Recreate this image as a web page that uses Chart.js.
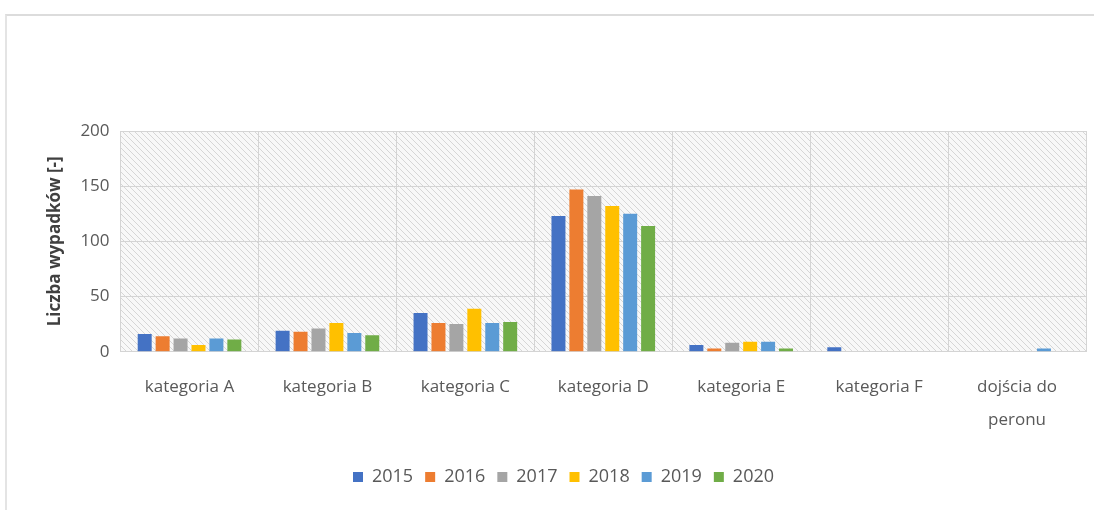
<!DOCTYPE html>
<html>
<head>
<meta charset="utf-8">
<script src="https://cdn.jsdelivr.net/npm/chart.js@4/dist/chart.umd.min.js"></script>
<style>
  body { margin: 0; background: #fff; }
  #frame {
    position: absolute; left: 5px; top: 14px;
    width: 1089px; height: 496px;
    border-top: 2px solid #dcdcdc; border-left: 2px solid #e4e4e4;
    box-sizing: border-box;
  }
</style>
</head>
<body>
<div id="frame"><canvas id="myChart" width="1087" height="494"></canvas></div>
<script>
// dane z wykresu
const categories = ["kategoria A", "kategoria B", "kategoria C", "kategoria D", "kategoria E", "kategoria F", ["dojścia do", "peronu"]];
const years = ["2015", "2016", "2017", "2018", "2019", "2020"];
const values2015 = [16, 19, 35, 123, 6, 4, 0];
const values2016 = [14, 18, 26, 147, 3, 0, 0];
const values2017 = [12, 21, 25, 141, 8, 0, 0];
const values2018 = [6, 26, 39, 132, 9, 0, 0];
const values2019 = [12, 17, 26, 125, 9, 0, 3];
const values2020 = [11, 15, 27, 114, 3, 0, 0];
const yTicks = [0, 50, 100, 150, 200];
const colors = ["#4472C4", "#ED7D31", "#A5A5A5", "#FFC000", "#5B9BD5", "#70AD47"];

const allValues = [values2015, values2016, values2017, values2018, values2019, values2020];

// tło z ukośnym kreskowaniem
function makeHatch() {
  const c = document.createElement("canvas");
  c.width = 6;
  c.height = 6;
  const g = c.getContext("2d");
  g.fillStyle = "#f8f8f8";
  g.fillRect(0, 0, 6, 6);
  g.strokeStyle = "#d6d6d6";
  g.lineWidth = 1;
  g.beginPath();
  g.moveTo(0, 0); g.lineTo(6, 6);
  g.moveTo(-3, 3); g.lineTo(3, 9);
  g.moveTo(3, -3); g.lineTo(9, 3);
  g.stroke();
  return c;
}

const hatchPlugin = {
  id: "hatch",
  beforeDraw(chart) {
    const { ctx, chartArea } = chart;
    ctx.save();
    ctx.fillStyle = ctx.createPattern(makeHatch(), "repeat");
    ctx.fillRect(chartArea.left, chartArea.top, chartArea.right - chartArea.left, chartArea.bottom - chartArea.top);
    ctx.restore();
  },
};

const chartData = {
  labels: categories,
  datasets: years.map((y, i) => ({
    label: y,
    data: allValues[i],
    backgroundColor: colors[i],
    borderWidth: 0,
    barPercentage: 0.78,
    categoryPercentage: 0.78,
  })),
};

const chartOptions = {
  responsive: false,
  animation: false,
  layout: { padding: { top: 115, right: 8, left: 34, bottom: 14 } },
  plugins: {
    legend: {
      position: "bottom",
      labels: {
        boxWidth: 10,
        boxHeight: 10,
        padding: 12,
        color: "#595959",
        font: { family: "Open Sans", size: 18 },
      },
    },
    tooltip: { enabled: false },
  },
  scales: {
    x: {
      grid: { color: "#d4d4d4", offset: true, drawTicks: false },
      border: { color: "#d4d4d4" },
      ticks: {
        color: "#595959",
        padding: 19,
        maxRotation: 0,
        font: { family: "Open Sans", size: 17, lineHeight: 1.95 },
      },
    },
    y: {
      min: 0,
      max: 200,
      afterBuildTicks: (axis) => { axis.ticks = yTicks.map((v) => ({ value: v })); },
      grid: { color: "#d4d4d4", drawTicks: false },
      border: { display: false },
      ticks: {
        color: "#595959",
        padding: 11,
        font: { family: "Open Sans", size: 17 },
      },
      title: {
        display: true,
        text: "Liczba wypadków [-]",
        color: "#404040",
        padding: 4,
        font: { family: "Open Sans", size: 17, weight: "bold" },
      },
    },
  },
};

// wykres
const ctx = document.getElementById("myChart").getContext("2d");
const myChart = new Chart(ctx, {
  type: "bar",
  data: chartData,
  options: chartOptions,
  plugins: [hatchPlugin],
});
</script>
</body>
</html>
